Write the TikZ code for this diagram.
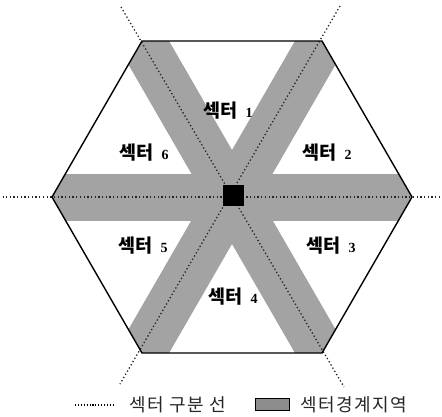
\documentclass[tikz,border=0pt]{standalone}
\usepackage{fontspec}
\newfontfamily\kr{Noto Sans CJK KR}
\newfontfamily\krl{Noto Sans CJK KR}[LetterSpace=8]
\newfontfamily\dg{Liberation Serif}
\newcommand{\dnum}[1]{{\dg\bfseries\fontsize{14}{14}\selectfont #1}}
\begin{document}
\begin{tikzpicture}[x=1pt,y=-1pt,
  sepline/.style={line width=1.3pt,dash pattern=on 1.3pt off 2.4pt,black!85},
  band/.style={fill=black!36},
  hexline/.style={line width=1.4pt,black},
  lab/.style={font=\kr\bfseries\fontsize{18.5}{18.5}\selectfont,inner sep=0pt},
  legtext/.style={font=\krl\fontsize{18}{18}\selectfont,inner sep=0pt,anchor=west,black!85},
]
\useasboundingbox (0,0) rectangle (442,416);
\coordinate (C) at (232,197);
\coordinate (v0) at (412,197);
\coordinate (v1) at (322,41);
\coordinate (v2) at (142,41);
\coordinate (v3) at (52,197);
\coordinate (v4) at (142,353);
\coordinate (v5) at (322,353);
\coordinate (o0) at (440,197);
\coordinate (o1) at (340,6);
\coordinate (o2) at (121,7);
\coordinate (o3) at (3,197);
\coordinate (o4) at (120,384);
\coordinate (o5) at (344,387);
% bands
\begin{scope}
  \clip (v0)--(v1)--(v2)--(v3)--(v4)--(v5)--cycle;
  \foreach \a in {0,60,120}{
    \fill[band,rotate around={\a:(C)}] (-20,173.5) rectangle (480,220.5);
  }
\end{scope}
% separator lines
\draw[sepline] (o0) -- (o3);
\draw[sepline] (o1) -- (o4);
\draw[sepline] (o2) -- (o5);
% hexagon
\draw[hexline,line join=miter] (v0)--(v1)--(v2)--(v3)--(v4)--(v5)--cycle;
% center
\node[fill=black,minimum size=21pt,inner sep=0pt] (bs) at (233,195) {};
% labels
\node[lab] (s1) at (228,111) {섹터\hspace{8pt}\dnum{1}};
\node[lab] (s2) at (327,153) {섹터\hspace{8pt}\dnum{2}};
\node[lab] (s3) at (331,246) {섹터\hspace{8pt}\dnum{3}};
\node[lab] (s4) at (233,297) {섹터\hspace{8pt}\dnum{4}};
\node[lab] (s5) at (143,246) {섹터\hspace{8pt}\dnum{5}};
\node[lab] (s6) at (144,153) {섹터\hspace{8pt}\dnum{6}};
% legend
\coordinate (la) at (75,405);
\coordinate (lb) at (113,405);
\draw[line width=1.2pt,dash pattern=on 1.1pt off 1.8pt,black] (la) -- (lb);
\node[legtext] (t1) at (129,405) {섹터 구분 선};
\node[draw=black,line width=1pt,fill=black!45,minimum width=34pt,minimum height=12pt,inner sep=0pt] (lbox) at (272,404) {};
\node[legtext] (t2) at (300,405) {섹터경계지역};
\end{tikzpicture}
\end{document}
